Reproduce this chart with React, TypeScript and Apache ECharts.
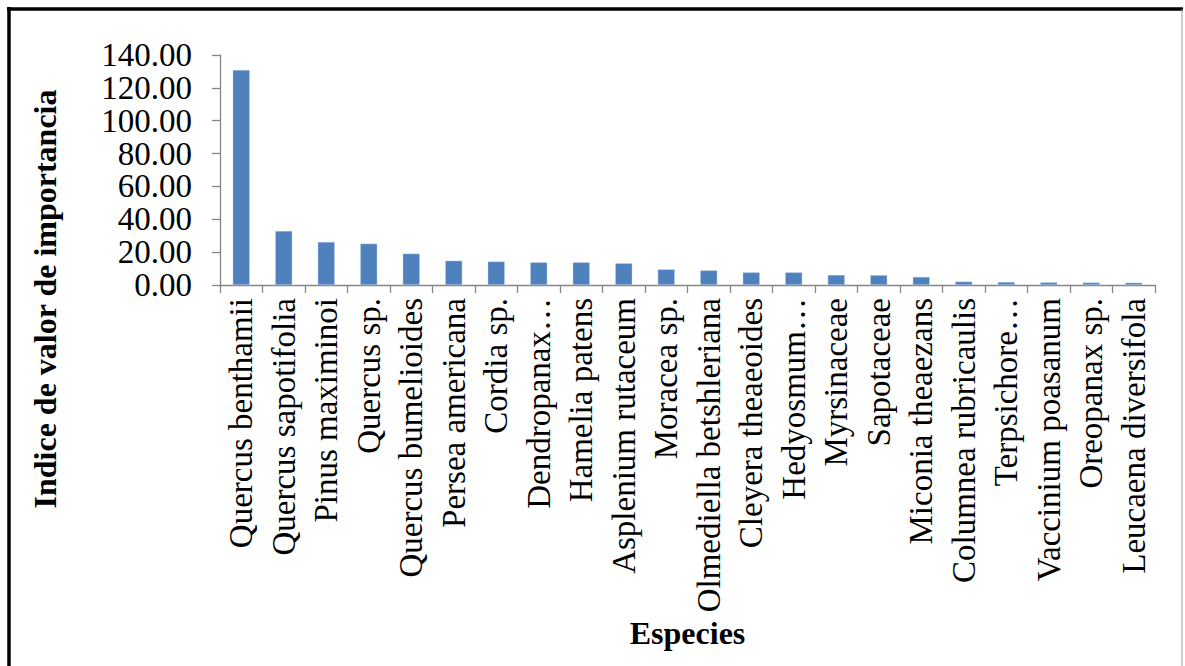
import React, { useEffect, useRef } from "react";
import * as echarts from "echarts";

const species = [
  "Quercus benthamii",
  "Quercus sapotifolia",
  "Pinus maximinoi",
  "Quercus sp.",
  "Quercus bumelioides",
  "Persea americana",
  "Cordia sp.",
  "Dendropanax…",
  "Hamelia patens",
  "Asplenium rutaceum",
  "Moracea sp.",
  "Olmediella betshleriana",
  "Cleyera theaeoides",
  "Hedyosmum…",
  "Myrsinaceae",
  "Sapotaceae",
  "Miconia theaezans",
  "Columnea rubricaulis",
  "Terpsichore…",
  "Vaccinium poasanum",
  "Oreopanax sp.",
  "Leucaena diversifola",
];

const ivi = [
  130.9, 32.9, 26.2, 25.2, 19.1, 14.8, 14.3, 13.8, 13.8, 13.2, 9.5, 8.9, 7.7,
  7.7, 6.1, 6.0, 4.9, 2.1, 1.8, 1.6, 1.5, 1.4,
];

const yAxisTitle = "Indice de valor de importancia";
const xAxisTitle = "Especies";

const FONT = '"Liberation Serif", "Times New Roman", serif';

export default function App() {
  const ref = useRef<HTMLDivElement>(null);

  useEffect(() => {
    document.body.style.margin = "0";
    if (!ref.current) return;
    const chart = echarts.init(ref.current, null, { renderer: "svg" });
    chart.setOption({
      animation: false,
      backgroundColor: "#ffffff",
      grid: {
        left: 220,
        right: 30,
        top: 55,
        bottom: 381,
        containLabel: false,
        outerBoundsMode: "none",
      },
      xAxis: {
        type: "category",
        data: species,
        boundaryGap: true,
        name: xAxisTitle,
        nameLocation: "middle",
        nameGap: 332,
        nameTextStyle: {
          fontFamily: FONT,
          fontSize: 32,
          fontWeight: "bold",
          color: "#000",
        },
        axisLine: { lineStyle: { color: "#868686", width: 1.3 } },
        axisTick: {
          show: true,
          length: 8,
          alignWithLabel: false,
          interval: 0,
          lineStyle: { color: "#868686", width: 1.3 },
        },
        axisLabel: {
          interval: 0,
          rotate: 90,
          margin: 13,
          fontFamily: FONT,
          fontSize: 33,
          color: "#000",
          hideOverlap: false,
        },
      },
      yAxis: {
        type: "value",
        min: 0,
        max: 140,
        interval: 20,
        splitLine: { show: false },
        axisLine: { show: true, lineStyle: { color: "#868686", width: 1.3 } },
        axisTick: {
          show: true,
          length: 8,
          lineStyle: { color: "#868686", width: 1.3 },
        },
        axisLabel: {
          margin: 28,
          fontFamily: FONT,
          fontSize: 33,
          color: "#000",
          hideOverlap: false,
          formatter: (v: number) => v.toFixed(2),
        },
      },
      series: [
        {
          type: "bar",
          data: ivi,
          barWidth: 17,
          itemStyle: {
            color: "#4F81BD",
            borderColor: "rgba(190,210,235,0.8)",
            borderWidth: 0.5,
          },
        },
      ],
      graphic: [
        {
          type: "text",
          x: 45,
          y: 299,
          rotation: Math.PI / 2,
          style: {
            text: yAxisTitle,
            fontFamily: FONT,
            fontSize: 32,
            fontWeight: "bold",
            fill: "#000",
            align: "center",
            verticalAlign: "middle",
          },
        },
        {
          type: "line",
          shape: { x1: 7, y1: 9, x2: 1183, y2: 9 },
          style: { stroke: "#000", lineWidth: 3.5 },
        },
        {
          type: "line",
          shape: { x1: 9, y1: 7, x2: 9, y2: 666 },
          style: { stroke: "#000", lineWidth: 3.5 },
        },
        {
          type: "line",
          shape: { x1: 1182, y1: 9, x2: 1182, y2: 666 },
          style: { stroke: "#9a9a9a", lineWidth: 1 },
        },
      ],
    });
    return () => chart.dispose();
  }, []);

  return (
    <div
      ref={ref}
      style={{ position: "absolute", left: 0, top: 0, width: 1185, height: 666 }}
    />
  );
}
